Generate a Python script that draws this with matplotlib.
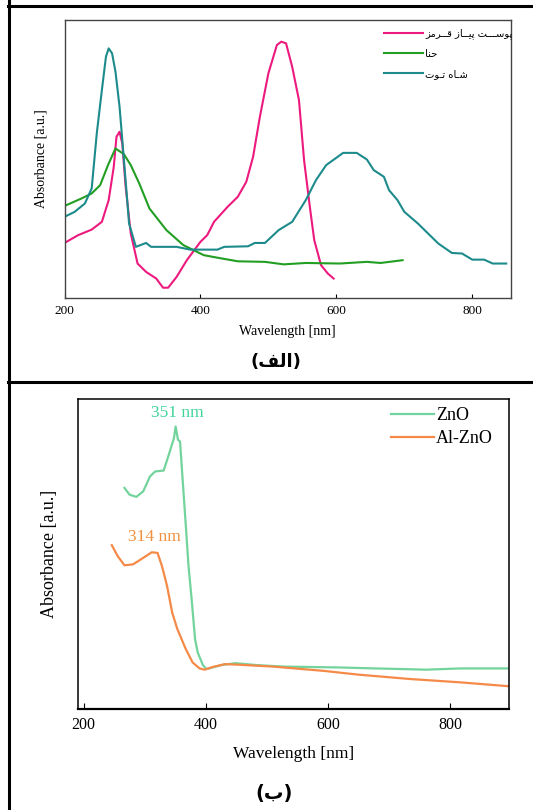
import matplotlib.pyplot as plt
from matplotlib.lines import Line2D

plt.rcParams['font.family'] = ['Liberation Serif', 'DejaVu Serif']
FA = ['DejaVu Sans']

# ---- panel (a): natural dyes ----
onion_x = [200, 220, 240, 255, 265, 272.5, 276.5, 281, 285, 290, 297.5, 307.5, 320, 335, 345,
           352.5, 365, 380, 400, 410, 420, 440, 455, 467.5, 477.5, 487.5, 500, 512.5, 519,
           526, 535, 545, 552.5, 561, 567.5, 577.5, 587.5, 596]
onion_y = [0.198, 0.226, 0.246, 0.274, 0.352, 0.472, 0.580, 0.598, 0.556, 0.400, 0.232, 0.124,
           0.094, 0.070, 0.037, 0.037, 0.076, 0.136, 0.202, 0.226, 0.274, 0.328, 0.364, 0.418,
           0.508, 0.652, 0.808, 0.910, 0.922, 0.916, 0.832, 0.712, 0.496, 0.328, 0.208, 0.118,
           0.088, 0.070]

henna_x = [200, 225, 240, 252.5, 264, 275, 287.5, 297.5, 310, 325, 350, 375, 405, 425, 455,
           495, 522.5, 555, 605, 645, 665, 697.5]
henna_y = [0.331, 0.358, 0.376, 0.406, 0.478, 0.538, 0.517, 0.478, 0.412, 0.322, 0.244, 0.190,
           0.154, 0.145, 0.132, 0.130, 0.121, 0.126, 0.124, 0.130, 0.126, 0.136]

mulberry_x = [200, 215, 230, 240, 247.5, 255, 261, 265, 270, 275, 281, 287.5, 295, 305, 320,
              327.5, 365, 385, 425, 435, 470, 480, 495, 515, 535, 555, 570, 585, 610, 630, 645,
              655, 670, 677.5, 690, 700, 720, 750, 770, 785, 800, 817.5, 830, 850]
mulberry_y = [0.292, 0.310, 0.340, 0.394, 0.592, 0.748, 0.868, 0.898, 0.880, 0.814, 0.688,
              0.496, 0.268, 0.184, 0.198, 0.184, 0.184, 0.174, 0.174, 0.184, 0.186, 0.198,
              0.198, 0.244, 0.274, 0.352, 0.424, 0.478, 0.522, 0.522, 0.498, 0.460, 0.436,
              0.388, 0.352, 0.310, 0.268, 0.196, 0.162, 0.160, 0.138, 0.138, 0.124, 0.124]

# persian labels, presentation forms in logical order (reversed for drawing)
lbl_onion = '\uFB58\uFEEE\uFEB3\u0640\u0640\u0640\uFE96 \uFB58\uFEF4\u0640\u0640\uFE8E\uFEAF \uFED7\u0640\u0640\uFEAE\uFEE3\uFEB0'
lbl_henna = '\uFEA3\uFEE8\uFE8E'
lbl_mulberry = '\uFEB7\u0640\uFE8E\uFEE9 \uFE97\u0640\uFEEE\uFE95'
lbl_a = '\uFE8D\uFEDF\uFED2'
lbl_b = '\uFE8F'

# ---- panel (b): ZnO films ----
zno_x = [267, 275.3, 286.5, 297.7, 308.8, 317.2, 331.1, 339.5, 347.9, 350.7, 354.6, 357.9,
         361.8, 367.4, 371.8, 376.9, 382.5, 386.9, 395.3, 400.9, 426, 448.4, 481.8, 526.5,
         621.4, 677.2, 760.9, 816.7, 898.8]
zno_y = [0.714, 0.692, 0.685, 0.703, 0.751, 0.767, 0.770, 0.821, 0.874, 0.912, 0.869, 0.864,
         0.751, 0.590, 0.461, 0.354, 0.225, 0.182, 0.142, 0.129, 0.142, 0.148, 0.142, 0.137,
         0.134, 0.131, 0.127, 0.131, 0.131]

alzno_x = [246.3, 255.8, 267, 281, 297.7, 311.6, 321.1, 328.4, 336.7, 345.1, 353.5, 367.4,
           378.6, 389.8, 398.1, 412.1, 431.6, 453.9, 509.7, 593.5, 649.3, 733, 816.7, 898.8]
alzno_y = [0.529, 0.494, 0.464, 0.467, 0.488, 0.506, 0.504, 0.461, 0.397, 0.311, 0.258, 0.193,
           0.150, 0.131, 0.127, 0.136, 0.145, 0.143, 0.137, 0.123, 0.111, 0.097, 0.086, 0.073]

W, H = 533, 810
fig = plt.figure(figsize=(W / 100, H / 100), dpi=100)


def fx(px):
    return px / W


def fy(py):
    return 1 - py / H


# outer frame lines
for seg in [((9, 9), (0, 810)), ((8, 533), (6, 6)), ((8, 533), (381.5, 381.5))]:
    fig.add_artist(Line2D([fx(seg[0][0]), fx(seg[0][1])], [fy(seg[1][0]), fy(seg[1][1])],
                          color='black', lw=2.2, transform=fig.transFigure))

# ---- top panel ----
ax1 = fig.add_axes([fx(64.5), fy(298), fx(511) - fx(64.5), fy(20) - fy(298)])
ax1.plot(onion_x, onion_y, color='#ec1a7e', lw=1.5, label=lbl_onion[::-1])
ax1.plot(henna_x, henna_y, color='#229e22', lw=1.5, label=lbl_henna[::-1])
ax1.plot(mulberry_x, mulberry_y, color='#1d8b8b', lw=1.5, label=lbl_mulberry[::-1])
ax1.set_xlim(200, 857)
ax1.set_ylim(0, 1)
ax1.set_xticks([200, 400, 600, 800])
ax1.set_yticks([])
ax1.tick_params(axis='x', direction='in', length=3, labelsize=9.5, pad=5)
for s in ax1.spines.values():
    s.set_color('#444444')
    s.set_linewidth(1)
ax1.set_xlabel('Wavelength [nm]', fontsize=10, labelpad=6)
ax1.set_ylabel('Absorbance [a.u.]', fontsize=10, labelpad=12)
leg1 = ax1.legend(loc='upper left', bbox_to_anchor=(fx(384), fy(28)), bbox_transform=fig.transFigure,
                  frameon=False, prop={'family': FA, 'size': 7.2}, handlelength=3.9,
                  handletextpad=0.2, labelspacing=1.0, borderpad=0, borderaxespad=0)
fig.text(fx(276), fy(362), '(' + lbl_a[::-1] + ')', family=FA, fontsize=13, fontweight='bold',
         ha='center', va='center')

# ---- bottom panel ----
ax2 = fig.add_axes([fx(77.7), fy(709), fx(509) - fx(77.7), fy(399.3) - fy(709)])
ax2.plot(zno_x, zno_y, color='#72d49c', lw=1.6, label='ZnO')
ax2.plot(alzno_x, alzno_y, color='#f58a48', lw=1.6, label='Al-ZnO')
ax2.set_xlim(190.5, 896)
ax2.set_ylim(0, 1)
ax2.set_xticks([200, 400, 600, 800])
ax2.set_yticks([])
ax2.tick_params(axis='x', direction='in', length=4, labelsize=11.5, pad=6)
for s in ax2.spines.values():
    s.set_color('black')
    s.set_linewidth(1.1)
ax2.spines['bottom'].set_linewidth(1.6)
ax2.set_xlabel('Wavelength [nm]', fontsize=12.5, labelpad=9)
ax2.set_ylabel('Absorbance [a.u.]', fontsize=13, labelpad=14)
ax2.text(353, 0.955, '351 nm', color='#3fd49a', fontsize=12.5, ha='center', va='center')
ax2.text(316, 0.555, '314 nm', color='#f0903e', fontsize=12.5, ha='center', va='center')
leg2 = ax2.legend(loc='upper left', bbox_to_anchor=(fx(391), fy(407)), bbox_transform=fig.transFigure,
                  frameon=False, fontsize=13, handlelength=2.4, handletextpad=0.1,
                  labelspacing=0.35, borderpad=0, borderaxespad=0)
fig.text(fx(274), fy(793), '(' + lbl_b + ')', family=FA, fontsize=14, fontweight='bold',
         ha='center', va='center')

fig.savefig('out.png', dpi=100)
